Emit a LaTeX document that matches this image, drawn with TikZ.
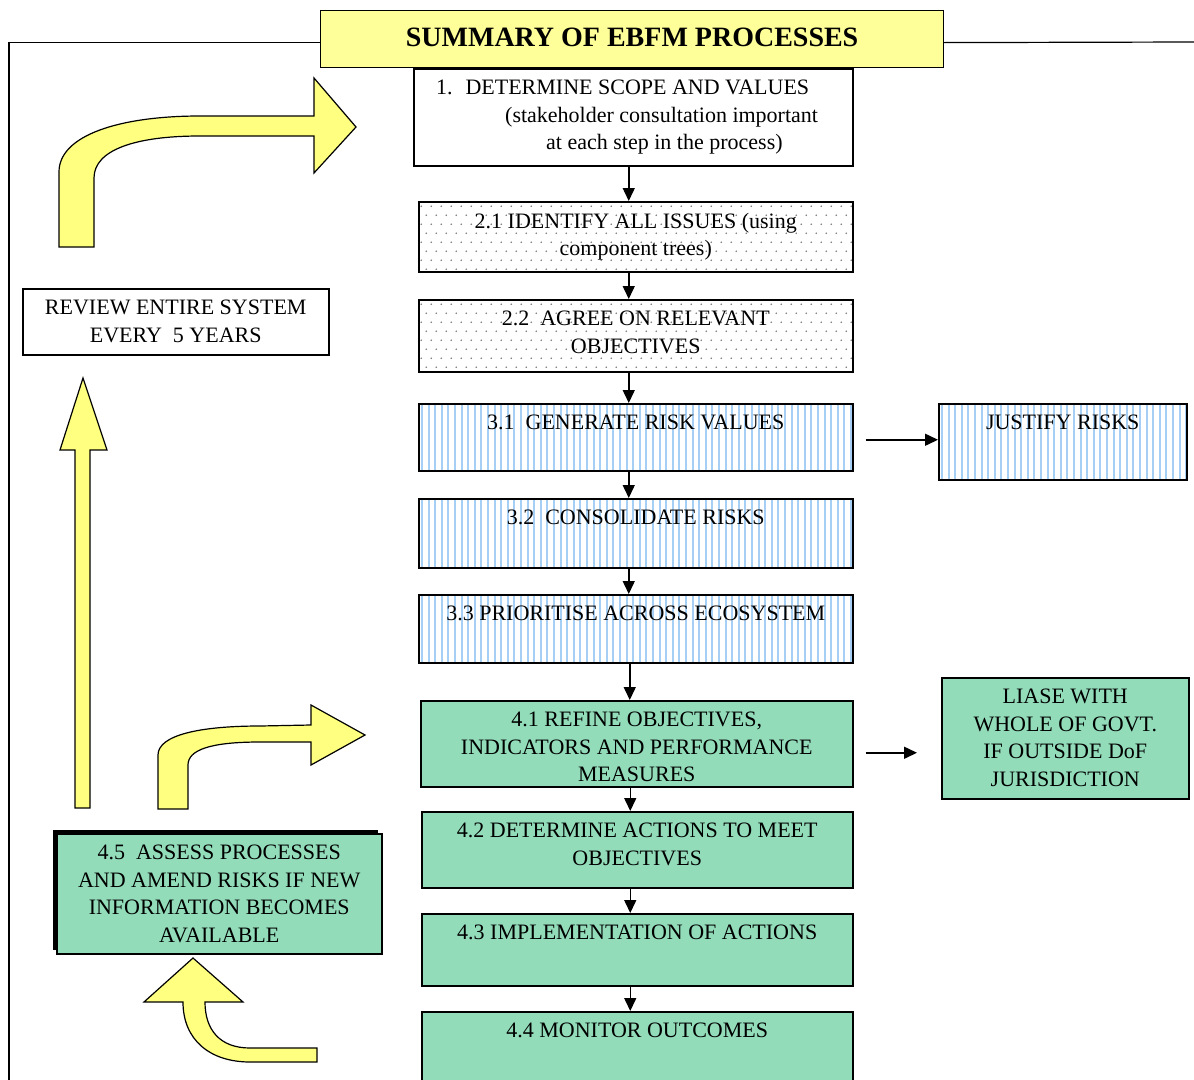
\documentclass[tikz,border=0pt]{standalone}
\usepackage{fontspec}
\setmainfont{Liberation Serif}
\usetikzlibrary{arrows.meta}

\definecolor{titleyellow}{HTML}{FFFF99}
\definecolor{arrowyellow}{HTML}{FFFF80}
\definecolor{stepgreen}{HTML}{92DCBA}
\definecolor{stripeblue}{HTML}{A6CFF5}
\definecolor{dotgray}{HTML}{7A7A7A}

\newcommand{\stepfont}{\fontsize{22}{27.5}\selectfont}

\tikzset{
  stepbox/.style={draw, line width=1.5pt, rectangle, inner sep=0pt, anchor=north west},
  plainbox/.style={stepbox, fill=white},
  % dotted and striped fills, drawn inside the box outline
  dotbox/.style={stepbox, fill=white, path picture={
      \foreach \i in {0,...,44} \foreach \j in {0,...,8} {
        \fill[dotgray] ([xshift=\i*10pt+2.5pt, yshift=-\j*18pt-4.5pt]path picture bounding box.north west) circle (0.9pt);
        \fill[dotgray] ([xshift=\i*10pt+7.5pt, yshift=-\j*18pt-13.5pt]path picture bounding box.north west) circle (0.9pt);
      }}},
  stripebox/.style={stepbox, fill=white, path picture={
      \foreach \i in {0,...,66}
        \fill[stripeblue] ([xshift=\i*6.6pt+2.3pt]path picture bounding box.south west)
          rectangle ([xshift=\i*6.6pt+4.3pt]path picture bounding box.north west);
      }},
  greenbox/.style={stepbox, fill=stepgreen},
  boxtext/.style={font=\stepfont, align=center, anchor=north, inner sep=0pt, yshift=-12pt},
  flow/.style={line width=1.5pt, -{Triangle[length=13pt,width=12pt]}},
  blockarrow/.style={fill=arrowyellow, draw=black, line width=1.2pt, line join=miter},
}

\begin{document}
\begin{tikzpicture}[x=1pt, y=-1pt]
	\useasboundingbox (0,0) rectangle (1194,1079);
	\fill[white] (0,0) rectangle (1194,1079);
	\clip (0,0) rectangle (1194,1079);

	% Title and frame
	\node[stepbox, fill=titleyellow, line width=1.2pt, minimum width=623pt, minimum height=57pt,
	      font=\fontsize{28}{32}\selectfont\bfseries] (title) at (320,10) {\raisebox{3pt}{SUMMARY OF EBFM PROCESSES}};
	\coordinate (framebot) at (9,1085);
	\coordinate (frameright) at (1194,42);
	\draw[line width=1.2pt] ([yshift=-3.5pt]title.west) -| (framebot);
	\draw[line width=1.2pt] ([yshift=-3.5pt]title.east) -- (frameright);

	% Main column of steps
	\node[plainbox, minimum width=439pt, minimum height=97pt] (scope) at (413,68) {};
	\node[dotbox, minimum width=434pt, minimum height=70pt] (issues) at (418,201) {};
	\node[dotbox, minimum width=434pt, minimum height=72pt] (objectives) at (418,299) {};
	\node[stripebox, minimum width=434pt, minimum height=67pt] (riskvalues) at (418,403) {};
	\node[stripebox, minimum width=434pt, minimum height=69pt] (consolidate) at (418,498) {};
	\node[stripebox, minimum width=434pt, minimum height=68pt] (prioritise) at (418,594) {};
	\node[greenbox, minimum width=432pt, minimum height=86pt] (refine) at (420,700) {};
	\node[greenbox, minimum width=431pt, minimum height=76pt] (actions) at (421,811) {};
	\node[greenbox, minimum width=431pt, minimum height=72pt] (implement) at (421,913) {};
	\node[greenbox, minimum width=431pt, minimum height=90pt] (monitor) at (421,1011) {};

	% Side boxes
	\node[stripebox, minimum width=248pt, minimum height=76pt] (justify) at (938,403) {};
	\node[greenbox, minimum width=247pt, minimum height=121pt] (liase) at (941,677) {};
	\node[plainbox, minimum width=306pt, minimum height=66pt] (review) at (22,288) {};
	\fill[black] (53,830) rectangle (378,950);
	\node[greenbox, minimum width=325pt, minimum height=120pt] (assess) at (56,833) {};

	% Box texts
	\node[font=\stepfont, align=left, anchor=north west, inner sep=0pt] (scopetxt)
	      at ([xshift=23pt,yshift=-12pt]scope.north west)
	      {1.~ DETERMINE SCOPE AND VALUES\\
	       \hspace*{69pt}(stakeholder consultation important\\
	       \hspace*{110pt}at each step in the process)};
	\node[boxtext] (issuestxt) at (issues.north) {2.1 IDENTIFY ALL ISSUES (using\\component trees)};
	\node[boxtext] (objectivestxt) at (objectives.north) {2.2~ AGREE ON RELEVANT\\OBJECTIVES};
	\node[boxtext] (riskvaluestxt) at (riskvalues.north) {3.1~ GENERATE RISK VALUES};
	\node[boxtext] (consolidatetxt) at (consolidate.north) {3.2~ CONSOLIDATE RISKS};
	\node[boxtext] (prioritisetxt) at (prioritise.north) {3.3 PRIORITISE ACROSS ECOSYSTEM};
	\node[boxtext] (refinetxt) at (refine.north) {4.1 REFINE OBJECTIVES,\\INDICATORS AND PERFORMANCE\\MEASURES};
	\node[boxtext] (actionstxt) at (actions.north) {4.2 DETERMINE ACTIONS TO MEET\\OBJECTIVES};
	\node[boxtext] (implementtxt) at (implement.north) {4.3 IMPLEMENTATION OF ACTIONS};
	\node[boxtext] (monitortxt) at (monitor.north) {4.4 MONITOR OUTCOMES};
	\node[boxtext] (justifytxt) at (justify.north) {JUSTIFY RISKS};
	\node[boxtext] (liasetxt) at (liase.north) {LIASE WITH\\WHOLE OF GOVT.\\IF OUTSIDE DoF\\JURISDICTION};
	\node[boxtext] (reviewtxt) at (review.north) {REVIEW ENTIRE SYSTEM\\EVERY~ 5 YEARS};
	\node[boxtext] (assesstxt) at (assess.north) {4.5~ ASSESS PROCESSES\\AND AMEND RISKS IF NEW\\INFORMATION BECOMES\\AVAILABLE};

	% Flow down the column
	\foreach \a/\b in {scope/issues, issues/objectives, objectives/riskvalues,
	                   riskvalues/consolidate, consolidate/prioritise, prioritise/refine,
	                   refine/actions, actions/implement, implement/monitor}
		\draw[flow] ([xshift=-7pt]\b.north |- \a.south) -- ([xshift=-7pt]\b.north);

	% Side arrows
	\draw[flow] ([xshift=12pt,yshift=-2.5pt]riskvalues.east) -- ([yshift=-2.5pt]justify.west |- riskvalues.east);
	\draw[flow] ([xshift=12pt,yshift=-9pt]refine.east) -- ([xshift=-24pt,yshift=-9pt]liase.west |- refine.east);

	% Yellow block arrows (feedback loops)
	\draw[blockarrow] (59,247) -- (59,172) .. controls (59,135) and (120,116) .. (200,116)
		-- (314,116) -- (314,78) -- (356,127) -- (314,173) -- (314,136) -- (200,136)
		.. controls (135,136) and (94,150) .. (94,178) -- (94,247) -- cycle;
	\draw[blockarrow] (75,808) -- (75,450) -- (60,450) -- (83,378) -- (107,450) -- (90,450) -- (90,808) -- cycle;
	\draw[blockarrow] (158,809) -- (158,755) .. controls (158,735) and (200,726) .. (260,726)
		-- (311,725) -- (311,705) -- (365,735) -- (311,765) -- (311,742) -- (260,742)
		.. controls (210,742) and (188,750) .. (188,765) -- (188,809) -- cycle;
	\draw[blockarrow] (317,1048) -- (250,1048) .. controls (220,1048) and (205,1030) .. (205,1002)
		-- (243,1002) -- (193,958) -- (144,1002) -- (183,1002)
		.. controls (183,1040) and (210,1062) .. (250,1062) -- (317,1062) -- cycle;
\end{tikzpicture}
\end{document}
